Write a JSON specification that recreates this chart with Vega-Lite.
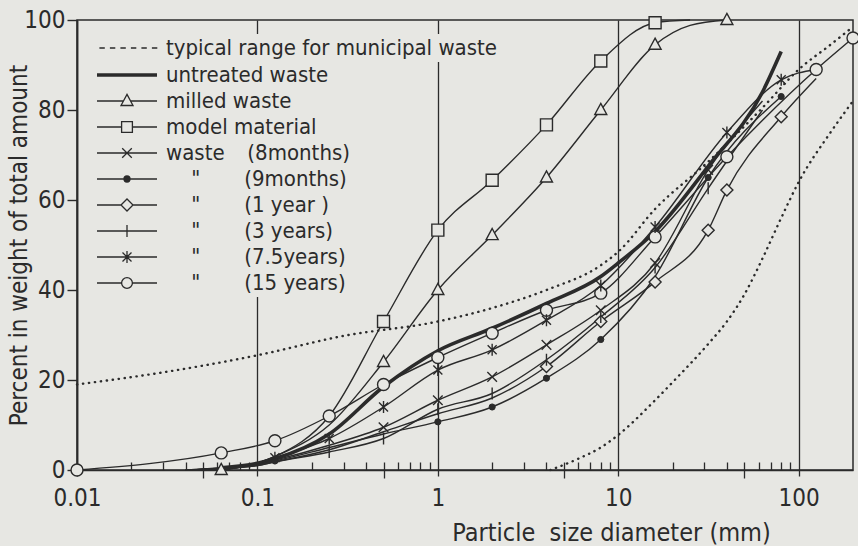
{
  "$schema": "https://vega.github.io/schema/vega-lite/v6.json",
  "width": 776,
  "height": 450,
  "autosize": "none",
  "padding": {"left": 77, "top": 20, "right": 5, "bottom": 76},
  "background": "#e7e7e3",
  "config": {
    "view": {"stroke": "#2b2b2b", "strokeWidth": 1.5, "fill": "#e7e7e3"},
    "font": "Liberation Sans Narrow, DejaVu Sans Condensed, Roboto Condensed, Liberation Sans, sans-serif",
    "axis": {"labelFont": "Liberation Sans Narrow, DejaVu Sans Condensed, Liberation Sans, sans-serif", "titleFont": "Liberation Sans Narrow, DejaVu Sans Condensed, Liberation Sans, sans-serif", "labelColor": "#2b2b2b", "titleColor": "#2b2b2b", "tickColor": "#2b2b2b", "domainColor": "#2b2b2b", "titleFontWeight": "normal"},
    "legend": {"labelFont": "Liberation Sans Narrow, DejaVu Sans Condensed, Liberation Sans, sans-serif", "labelColor": "#2b2b2b"}
  },
  "datasets": {
    "curves": [
      {"s":"typ","c":"typU","x":0.01,"y":19},{"s":"typ","c":"typU","x":0.03,"y":21.7},{"s":"typ","c":"typU","x":0.1,"y":25.5},{"s":"typ","c":"typU","x":0.3,"y":29.8},{"s":"typ","c":"typU","x":1,"y":33},{"s":"typ","c":"typU","x":2,"y":36},{"s":"typ","c":"typU","x":4,"y":40},{"s":"typ","c":"typU","x":8,"y":45.5},{"s":"typ","c":"typU","x":10,"y":48.5},{"s":"typ","c":"typU","x":16,"y":58},{"s":"typ","c":"typU","x":31.5,"y":68.5},{"s":"typ","c":"typU","x":63,"y":80.5},{"s":"typ","c":"typU","x":100,"y":89},{"s":"typ","c":"typU","x":150,"y":94.5},{"s":"typ","c":"typU","x":200,"y":98.5},
      {"s":"typ","c":"typL","x":4.2,"y":0},{"s":"typ","c":"typL","x":6,"y":2.5},{"s":"typ","c":"typL","x":8,"y":5},{"s":"typ","c":"typL","x":10,"y":7.8},{"s":"typ","c":"typL","x":16,"y":15.5},{"s":"typ","c":"typL","x":20,"y":19.5},{"s":"typ","c":"typL","x":31.5,"y":28},{"s":"typ","c":"typL","x":40,"y":33},{"s":"typ","c":"typL","x":50,"y":39},{"s":"typ","c":"typL","x":63,"y":47},{"s":"typ","c":"typL","x":80,"y":56},{"s":"typ","c":"typL","x":100,"y":64},{"s":"typ","c":"typL","x":150,"y":75},{"s":"typ","c":"typL","x":200,"y":82},
      {"s":"unt","c":"unt","x":0.063,"y":0.5},{"s":"unt","c":"unt","x":0.1,"y":1.5},{"s":"unt","c":"unt","x":0.125,"y":2.5},{"s":"unt","c":"unt","x":0.25,"y":8},{"s":"unt","c":"unt","x":0.5,"y":18.5},{"s":"unt","c":"unt","x":1,"y":26.5},{"s":"unt","c":"unt","x":2,"y":31.5},{"s":"unt","c":"unt","x":4,"y":37},{"s":"unt","c":"unt","x":8,"y":43},{"s":"unt","c":"unt","x":10,"y":46},{"s":"unt","c":"unt","x":16,"y":53},{"s":"unt","c":"unt","x":31.5,"y":67.5},{"s":"unt","c":"unt","x":63,"y":84},{"s":"unt","c":"unt","x":80,"y":93},
      {"s":"mil","c":"mil","x":0.063,"y":0},{"s":"mil","c":"mil","x":0.1,"y":1.5},{"s":"mil","c":"mil","x":0.125,"y":3},{"s":"mil","c":"mil","x":0.25,"y":10},{"s":"mil","c":"mil","x":0.5,"y":24},{"s":"mil","c":"mil","x":1,"y":40},{"s":"mil","c":"mil","x":2,"y":52.2},{"s":"mil","c":"mil","x":4,"y":65},{"s":"mil","c":"mil","x":8,"y":80},{"s":"mil","c":"mil","x":16,"y":94.5},{"s":"mil","c":"mil","x":25,"y":98.8},{"s":"mil","c":"mil","x":40,"y":100},
      {"s":"mod","c":"mod","x":0.063,"y":0},{"s":"mod","c":"mod","x":0.1,"y":1.5},{"s":"mod","c":"mod","x":0.125,"y":3},{"s":"mod","c":"mod","x":0.25,"y":12},{"s":"mod","c":"mod","x":0.5,"y":33},{"s":"mod","c":"mod","x":1,"y":53.3},{"s":"mod","c":"mod","x":2,"y":64.4},{"s":"mod","c":"mod","x":4,"y":76.7},{"s":"mod","c":"mod","x":8,"y":90.9},{"s":"mod","c":"mod","x":16,"y":99.4},{"s":"mod","c":"mod","x":25,"y":100},
      {"s":"y15","c":"y15","x":0.01,"y":0},{"s":"y15","c":"y15","x":0.063,"y":3.8},{"s":"y15","c":"y15","x":0.125,"y":6.5},{"s":"y15","c":"y15","x":0.25,"y":12},{"s":"y15","c":"y15","x":0.5,"y":19},{"s":"y15","c":"y15","x":1,"y":25},{"s":"y15","c":"y15","x":2,"y":30.4},{"s":"y15","c":"y15","x":4,"y":35.5},{"s":"y15","c":"y15","x":8,"y":39.3},{"s":"y15","c":"y15","x":16,"y":51.8},{"s":"y15","c":"y15","x":40,"y":69.6},{"s":"y15","c":"y15","x":125,"y":89},{"s":"y15","c":"y15","x":200,"y":96},
      {"s":"y7","c":"y7","x":0.04,"y":0},{"s":"y7","c":"y7","x":0.1,"y":1.5},{"s":"y7","c":"y7","x":0.125,"y":2.7},{"s":"y7","c":"y7","x":0.25,"y":7},{"s":"y7","c":"y7","x":0.5,"y":14},{"s":"y7","c":"y7","x":1,"y":22.2},{"s":"y7","c":"y7","x":2,"y":26.7},{"s":"y7","c":"y7","x":4,"y":33.3},{"s":"y7","c":"y7","x":8,"y":41},{"s":"y7","c":"y7","x":16,"y":54},{"s":"y7","c":"y7","x":40,"y":75},{"s":"y7","c":"y7","x":80,"y":86.7},{"s":"y7","c":"y7","x":125,"y":89},
      {"s":"m8","c":"m8","x":0.04,"y":0},{"s":"m8","c":"m8","x":0.1,"y":1.3},{"s":"m8","c":"m8","x":0.125,"y":2.2},{"s":"m8","c":"m8","x":0.25,"y":5.5},{"s":"m8","c":"m8","x":0.5,"y":9.5},{"s":"m8","c":"m8","x":1,"y":15.5},{"s":"m8","c":"m8","x":2,"y":20.7},{"s":"m8","c":"m8","x":4,"y":27.8},{"s":"m8","c":"m8","x":8,"y":35.5},{"s":"m8","c":"m8","x":16,"y":46},{"s":"m8","c":"m8","x":31.5,"y":66.7},{"s":"m8","c":"m8","x":63,"y":82},
      {"s":"m9","c":"m9","x":0.04,"y":0},{"s":"m9","c":"m9","x":0.1,"y":1.2},{"s":"m9","c":"m9","x":0.125,"y":2},{"s":"m9","c":"m9","x":0.25,"y":5},{"s":"m9","c":"m9","x":0.5,"y":8},{"s":"m9","c":"m9","x":1,"y":10.7},{"s":"m9","c":"m9","x":2,"y":14},{"s":"m9","c":"m9","x":4,"y":20.4},{"s":"m9","c":"m9","x":8,"y":29},{"s":"m9","c":"m9","x":16,"y":43},{"s":"m9","c":"m9","x":31.5,"y":65},{"s":"m9","c":"m9","x":80,"y":83},
      {"s":"y1","c":"y1","x":0.04,"y":0},{"s":"y1","c":"y1","x":0.1,"y":1},{"s":"y1","c":"y1","x":0.125,"y":1.8},{"s":"y1","c":"y1","x":0.25,"y":4.5},{"s":"y1","c":"y1","x":0.5,"y":8.5},{"s":"y1","c":"y1","x":1,"y":12.5},{"s":"y1","c":"y1","x":2,"y":16},{"s":"y1","c":"y1","x":4,"y":23},{"s":"y1","c":"y1","x":8,"y":33},{"s":"y1","c":"y1","x":16,"y":41.8},{"s":"y1","c":"y1","x":31.5,"y":53.3},{"s":"y1","c":"y1","x":40,"y":62.2},{"s":"y1","c":"y1","x":80,"y":78.5},{"s":"y1","c":"y1","x":125,"y":87},
      {"s":"y3","c":"y3","x":0.04,"y":0},{"s":"y3","c":"y3","x":0.1,"y":1},{"s":"y3","c":"y3","x":0.125,"y":1.8},{"s":"y3","c":"y3","x":0.25,"y":4},{"s":"y3","c":"y3","x":0.5,"y":7},{"s":"y3","c":"y3","x":1,"y":13.5},{"s":"y3","c":"y3","x":2,"y":17},{"s":"y3","c":"y3","x":4,"y":24.5},{"s":"y3","c":"y3","x":8,"y":34},{"s":"y3","c":"y3","x":16,"y":45},{"s":"y3","c":"y3","x":31.5,"y":62.6},{"s":"y3","c":"y3","x":63,"y":80}
    ],
    "markers": [
      {"s":"mil","x":0.063,"y":0},{"s":"mil","x":0.5,"y":24},{"s":"mil","x":1,"y":40},{"s":"mil","x":2,"y":52.2},{"s":"mil","x":4,"y":65},{"s":"mil","x":8,"y":80},{"s":"mil","x":16,"y":94.5},{"s":"mil","x":40,"y":100},
      {"s":"mod","x":0.5,"y":33},{"s":"mod","x":1,"y":53.3},{"s":"mod","x":2,"y":64.4},{"s":"mod","x":4,"y":76.7},{"s":"mod","x":8,"y":90.9},{"s":"mod","x":16,"y":99.4},
      {"s":"y15","x":0.01,"y":0},{"s":"y15","x":0.063,"y":3.8},{"s":"y15","x":0.125,"y":6.5},{"s":"y15","x":0.25,"y":12},{"s":"y15","x":0.5,"y":19},{"s":"y15","x":1,"y":25},{"s":"y15","x":2,"y":30.4},{"s":"y15","x":4,"y":35.5},{"s":"y15","x":8,"y":39.3},{"s":"y15","x":16,"y":51.8},{"s":"y15","x":40,"y":69.6},{"s":"y15","x":125,"y":89},{"s":"y15","x":200,"y":96},
      {"s":"y7","x":0.125,"y":2.7},{"s":"y7","x":0.25,"y":7},{"s":"y7","x":0.5,"y":14},{"s":"y7","x":1,"y":22.2},{"s":"y7","x":2,"y":26.7},{"s":"y7","x":4,"y":33.3},{"s":"y7","x":8,"y":41},{"s":"y7","x":16,"y":54},{"s":"y7","x":40,"y":75},{"s":"y7","x":80,"y":86.7},
      {"s":"m8","x":0.5,"y":9.5},{"s":"m8","x":1,"y":15.5},{"s":"m8","x":2,"y":20.7},{"s":"m8","x":4,"y":27.8},{"s":"m8","x":8,"y":35.5},{"s":"m8","x":16,"y":46},{"s":"m8","x":31.5,"y":66.7},
      {"s":"m9","x":0.125,"y":2},{"s":"m9","x":1,"y":10.7},{"s":"m9","x":2,"y":14},{"s":"m9","x":4,"y":20.4},{"s":"m9","x":8,"y":29},{"s":"m9","x":31.5,"y":65},{"s":"m9","x":80,"y":83},
      {"s":"y1","x":4,"y":23},{"s":"y1","x":8,"y":33},{"s":"y1","x":16,"y":41.8},{"s":"y1","x":31.5,"y":53.3},{"s":"y1","x":40,"y":62.2},{"s":"y1","x":80,"y":78.5},
      {"s":"y3","x":0.25,"y":4},{"s":"y3","x":0.5,"y":7},{"s":"y3","x":1,"y":13.5},{"s":"y3","x":2,"y":17},{"s":"y3","x":4,"y":24.5},{"s":"y3","x":8,"y":34},{"s":"y3","x":16,"y":45},{"s":"y3","x":31.5,"y":62.6}
    ]
  },
  "encoding": {
    "y": {"field": "y", "type": "quantitative", "scale": {"domain": [0, 100], "nice": false},
      "axis": {"values": [0, 20, 40, 60, 80, 100], "grid": false, "tickSize": 10, "tickWidth": 1.4, "domainWidth": 1.7, "labelPadding": 2, "labelFontSize": 24, "title": "Percent in weight of total amount", "titleFontSize": 24, "titleAngle": -90, "titleX": -58, "titleY": 225, "titleAlign": "center", "titleBaseline": "middle"}}
  },
  "layer": [
    {
      "data": {"name": "curves"},
      "transform": [{"filter": "datum.s == 'typ'"}],
      "mark": {"type": "line", "interpolate": "monotone", "stroke": "#2b2b2b", "strokeWidth": 2.4, "strokeDash": [0.3, 5.7], "strokeCap": "round"},
      "encoding": {
        "x": {"field": "x", "type": "quantitative", "scale": {"type": "log", "domain": [0.01, 200], "nice": false},
          "axis": {"orient": "bottom", "values": [0.01, 0.1, 1, 10, 100], "labelExpr": "'' + datum.value", "grid": true, "gridColor": "#2b2b2b", "gridWidth": 1.3, "gridOpacity": 1, "tickSize": 6, "tickWidth": 1.3, "domainWidth": 1.7, "labelPadding": 10, "labelFontSize": 24, "labelFlush": false, "labelOverlap": false, "title": "Particle\u00a0\u00a0size diameter (mm)", "titleFontSize": 25, "titleX": 534, "titleY": 70, "titleAlign": "center", "titleBaseline": "alphabetic"}},
        "detail": {"field": "c"}
      }
    },
    {
      "data": {"name": "curves"},
      "transform": [{"filter": "datum.s == 'unt'"}],
      "mark": {"type": "line", "interpolate": "monotone", "stroke": "#2b2b2b", "strokeWidth": 3.6},
      "encoding": {
        "x": {"field": "x", "type": "quantitative", "scale": {"type": "log", "domain": [0.01, 200], "nice": false},
          "axis": {"orient": "bottom", "offset": -8, "values": [0.02,0.03,0.04,0.05,0.06,0.07,0.08,0.09,0.2,0.3,0.4,0.5,0.6,0.7,0.8,0.9,2,3,4,5,6,7,8,9,20,30,40,50,60,70,80,90], "labels": false, "domain": false, "grid": false, "tickSize": 8, "tickWidth": 1.3, "title": null}}
      }
    },
    {
      "data": {"name": "curves"},
      "transform": [{"filter": "datum.s != 'typ' && datum.s != 'unt'"}],
      "mark": {"type": "line", "interpolate": "monotone", "stroke": "#2b2b2b", "strokeWidth": 1.4},
      "encoding": {
        "x": {"field": "x", "type": "quantitative", "scale": {"type": "log", "domain": [0.01, 200], "nice": false},
          "axis": {"orient": "bottom", "values": [0.05, 0.5, 5, 50], "labels": false, "domain": false, "grid": false, "tickSize": 8, "tickWidth": 1.3, "title": null}},
        "detail": {"field": "c"}
      }
    },
    {
      "data": {"name": "markers"},
      "transform": [{"filter": "datum.s != 'm9'"}],
      "mark": {"type": "point", "filled": false, "stroke": "#2b2b2b", "fill": "#e7e7e3", "strokeWidth": 1.4, "opacity": 1, "size": 144},
      "encoding": {
        "x": {"field": "x", "type": "quantitative", "scale": {"type": "log", "domain": [0.01, 200], "nice": false}, "axis": null},
        "shape": {"field": "s", "type": "nominal", "legend": null,
          "scale": {"domain": ["mil","mod","y15","y7","m8","y1","y3"],
            "range": ["M0,-1.1L1,0.75L-1,0.75Z", "M-1,-1H1V1H-1Z", "circle", "M0,-1V1M-0.75,-0.75L0.75,0.75M-0.75,0.75L0.75,-0.75", "M-0.8,-0.8L0.8,0.8M-0.8,0.8L0.8,-0.8", "M0,-1L1,0L0,1L-1,0Z", "M0,-1V1"]}}
      }
    },
    {
      "data": {"name": "markers"},
      "transform": [{"filter": "datum.s == 'm9'"}],
      "mark": {"type": "point", "shape": "circle", "filled": true, "fill": "#2b2b2b", "stroke": "#2b2b2b", "strokeWidth": 1, "opacity": 1, "size": 38},
      "encoding": {
        "x": {"field": "x", "type": "quantitative", "scale": {"type": "log", "domain": [0.01, 200], "nice": false}, "axis": null}
      }
    },
    {
      "data": {"name": "curves"},
      "transform": [{"filter": "datum.s == 'typ'"}],
      "mark": {"type": "point", "opacity": 0},
      "encoding": {
        "x": {"field": "x", "type": "quantitative", "scale": {"type": "log", "domain": [0.01, 200], "nice": false}, "axis": null},
        "shape": {"field": "s", "type": "nominal",
          "scale": {"domain": ["typ"], "range": ["M-4.6,0H-3.7M-2.85,0H-1.95M-1.1,0H-0.2M0.65,0H1.55M2.4,0H3.3M4.15,0H5.05"]},
          "legend": {"orient": "none", "legendX": 36, "legendY": 14, "padding": 3, "fillColor": "#e7e7e3", "title": null, "symbolSize": 144, "symbolStrokeWidth": 1.3, "symbolStrokeColor": "#2b2b2b", "symbolFillColor": "transparent", "symbolOpacity": 1, "labelFontSize": 22, "labelOffset": 28, "labelLimit": 0, "labelExpr": "'typical range for municipal waste'",
            "encode": {"symbols": {"update": {"opacity": {"value": 1}}}}}
        }
      }
    },
    {
      "data": {"name": "curves"},
      "transform": [{"filter": "datum.s != 'typ'"}],
      "mark": {"type": "point", "opacity": 0},
      "encoding": {
        "x": {"field": "x", "type": "quantitative", "scale": {"type": "log", "domain": [0.01, 200], "nice": false}, "axis": null},
        "shape": {"field": "s", "type": "nominal",
          "scale": {"domain": ["unt","mil","mod","m8","m9","y1","y3","y7","y15"],
            "range": ["M-5,-0.2H5M-5,0H5M-5,0.2H5", "M-5,0H-0.6M0.6,0H5M0,-1.1L1,0.75H-1Z", "M-5,0H-0.9M0.9,0H5M-0.9,-0.9H0.9V0.9H-0.9Z", "M-5,0H5M-0.8,-0.8L0.8,0.8M-0.8,0.8L0.8,-0.8", "M-5,0H5M0.5,0A0.5,0.5,0,1,1,-0.5,0A0.5,0.5,0,1,1,0.5,0ZM0.3,0A0.3,0.3,0,1,1,-0.3,0A0.3,0.3,0,1,1,0.3,0ZM0.12,0A0.12,0.12,0,1,1,-0.12,0A0.12,0.12,0,1,1,0.12,0Z", "M-5,0H-1M1,0H5M-1,0L0,-1L1,0L0,1Z", "M-5,0H5M0,-1V1", "M-5,0H5M0,-1V1M-0.75,-0.75L0.75,0.75M-0.75,0.75L0.75,-0.75", "M-5,0H-0.9M0.9,0H5M0.9,0A0.9,0.9,0,1,1,-0.9,0A0.9,0.9,0,1,1,0.9,0Z"]},
          "legend": {"orient": "none", "legendX": 36, "legendY": 41, "padding": 3, "fillColor": "#e7e7e3", "title": null, "symbolSize": 144, "symbolStrokeWidth": 1.3, "symbolStrokeColor": "#2b2b2b", "symbolFillColor": "#e7e7e3", "symbolOpacity": 1, "labelFontSize": 22, "labelOffset": 28, "labelLimit": 0, "rowPadding": 4,
            "labelExpr": "datum.value == 'unt' ? 'untreated waste' : datum.value == 'mil' ? 'milled waste' : datum.value == 'mod' ? 'model material' : datum.value == 'm8' ? 'waste\u00a0\u00a0\u00a0\u2009(8months)' : datum.value == 'm9' ? '\u200b\u00a0\u00a0\u00a0\u00a0\"\u00a0\u00a0\u00a0\u00a0\u00a0\u00a0\u00a0(9months)' : datum.value == 'y1' ? '\u200b\u00a0\u00a0\u00a0\u00a0\"\u00a0\u00a0\u00a0\u00a0\u00a0\u00a0\u00a0(1 year )' : datum.value == 'y3' ? '\u200b\u00a0\u00a0\u00a0\u00a0\"\u00a0\u00a0\u00a0\u00a0\u00a0\u00a0\u00a0(3 years)' : datum.value == 'y7' ? '\u200b\u00a0\u00a0\u00a0\u00a0\"\u00a0\u00a0\u00a0\u00a0\u00a0\u00a0\u00a0(7.5years)' : '\u200b\u00a0\u00a0\u00a0\u00a0\"\u00a0\u00a0\u00a0\u00a0\u00a0\u00a0\u00a0(15 years)'",
            "encode": {"symbols": {"update": {"opacity": {"value": 1}}}}}
        }
      }
    }
  ],
  "resolve": {"scale": {"shape": "independent"}, "axis": {"x": "independent"}}
}
